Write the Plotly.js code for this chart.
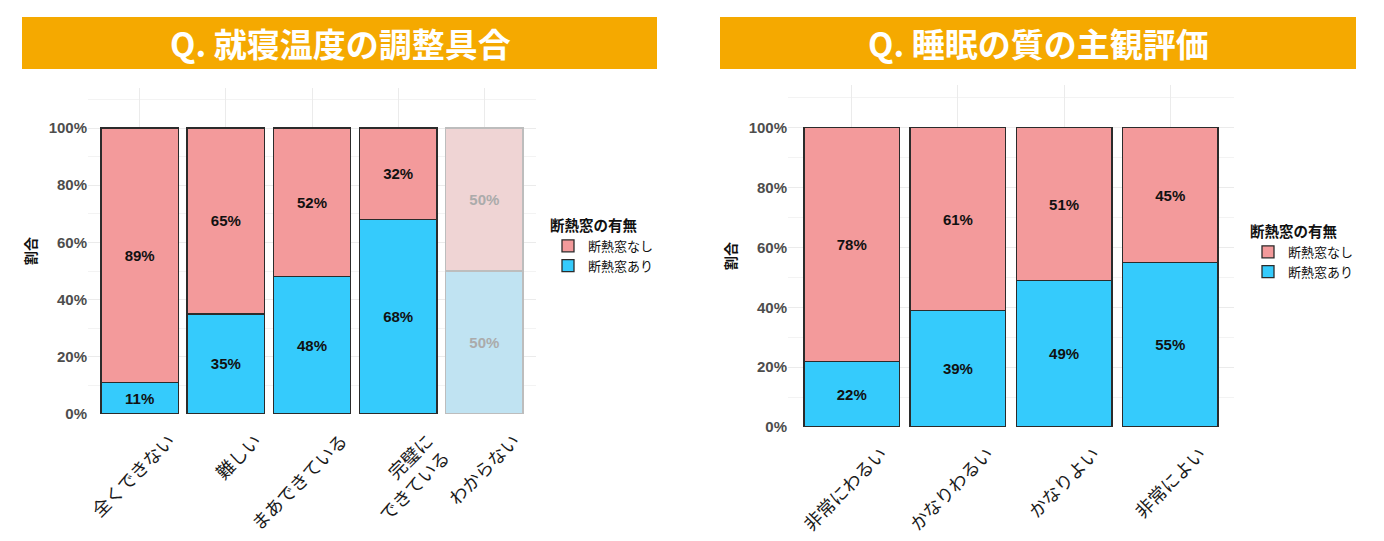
<!DOCTYPE html>
<html>
<head>
<meta charset="utf-8">
<script src="https://cdn.plot.ly/plotly-3.0.1.min.js"></script>
<style>
  html, body { margin: 0; padding: 0; background: #fff; }
  #chart { width: 1384px; height: 541px; }
</style>
</head>
<body>
<div id="chart"></div>
<script>
// Q. 就寝温度の調整具合
var tempCats = ['全くできない', '難しい', 'まあできている', '完璧に<br>できている', 'わからない'];
var tempWith = [0.11, 0.35, 0.48, 0.68, 0.50];      // 断熱窓あり
var tempWithout = [0.89, 0.65, 0.52, 0.32, 0.50];   // 断熱窓なし

// Q. 睡眠の質の主観評価
var sleepCats = ['非常にわるい', 'かなりわるい', 'かなりよい', '非常によい'];
var sleepWith = [0.22, 0.39, 0.49, 0.55];
var sleepWithout = [0.78, 0.61, 0.51, 0.45];

var nameWith = '断熱窓あり';
var nameWithout = '断熱窓なし';
var legendTitle = '断熱窓の有無';

var pink = '#F39A9B', blue = '#35CBFC';
var pinkFaded = '#EFD4D4', blueFaded = '#C0E3F2';
var numFont = '"Liberation Sans", "Noto Sans CJK JP", sans-serif';
var jpFont = '"Noto Sans CJK JP", sans-serif';

// the "わからない" column is drawn faded
function colours(cats, normal, faded) {
  return cats.map(function (c) { return c === 'わからない' ? faded : normal; });
}

function barTrace(cats, vals, name, fill, faded, xa, ya, legend) {
  return {
    type: 'bar',
    x: cats,
    y: vals,
    name: name,
    xaxis: xa,
    yaxis: ya,
    legend: legend,
    text: vals.map(function (v) { return Math.round(v * 100) + '%'; }),
    textposition: 'inside',
    insidetextanchor: 'middle',
    textangle: 0,
    constraintext: 'none',
    textfont: {
      family: numFont, size: 15, weight: 'bold',
      color: colours(cats, '#111111', '#ABABAB')
    },
    marker: {
      color: colours(cats, fill, faded),
      line: { color: colours(cats, '#2B2B2B', '#BDBDBD'), width: 1.3 }
    },
    hoverinfo: 'skip'
  };
}

var data = [
  barTrace(tempCats, tempWith, nameWith, blue, blueFaded, 'x', 'y', 'legend'),
  barTrace(tempCats, tempWithout, nameWithout, pink, pinkFaded, 'x', 'y', 'legend'),
  barTrace(sleepCats, sleepWith, nameWith, blue, blueFaded, 'x2', 'y2', 'legend2'),
  barTrace(sleepCats, sleepWithout, nameWithout, pink, pinkFaded, 'x2', 'y2', 'legend2')
];

function xAxis(domain, n, anchor) {
  return {
    domain: domain,
    anchor: anchor,
    type: 'category',
    range: [-0.6, n - 0.4],
    showgrid: true,
    gridcolor: '#EBEBEB',
    gridwidth: 1,
    zeroline: false,
    showline: false,
    ticks: '',
    tickangle: -45,
    ticklabelshift: 30,
    ticklabelstandoff: 12,
    tickfont: { family: jpFont, size: 18, color: '#1A1A1A' },
    fixedrange: true
  };
}

function yAxis(domain, top, anchor) {
  return {
    domain: domain,
    anchor: anchor,
    range: [0, top],
    dtick: 0.2,
    tick0: 0,
    tickformat: '.0%',
    showgrid: true,
    gridcolor: '#EBEBEB',
    gridwidth: 1,
    minor: { dtick: 0.1, tick0: 0, showgrid: true, gridcolor: '#F3F3F3', gridwidth: 1 },
    zeroline: false,
    showline: false,
    ticks: '',
    tickfont: { family: numFont, size: 15, weight: 'bold', color: '#4D4D4D' },
    title: { text: '割合', font: { family: jpFont, size: 14, weight: 'bold', color: '#111' }, standoff: 8 },
    fixedrange: true
  };
}

function legendBox(x, y) {
  return {
    x: x, y: y, xanchor: 'left', yanchor: 'top',
    traceorder: 'reversed',
    bgcolor: 'rgba(0,0,0,0)',
    font: { family: jpFont, size: 13, color: '#111' },
    title: { text: legendTitle, font: { family: jpFont, size: 14.5, weight: 'bold', color: '#111' } },
    itemwidth: 30,
    tracegroupgap: 0
  };
}

var bannerColor = '#F5A900';

var layout = {
  width: 1384,
  height: 541,
  margin: { l: 0, r: 0, t: 0, b: 0 },
  paper_bgcolor: '#fff',
  plot_bgcolor: '#fff',
  barmode: 'stack',
  bargap: 0.1,
  xaxis: xAxis([88 / 1384, 536 / 1384], tempCats.length, 'y'),
  yaxis: yAxis([1 - 414 / 541, 1 - 88 / 541], 1.14, 'x'),
  xaxis2: xAxis([788 / 1384, 1234 / 1384], sleepCats.length, 'y2'),
  yaxis2: yAxis([1 - 427 / 541, 1 - 85 / 541], 1.143, 'x2'),
  legend: legendBox(548 / 1384, 1 - 212 / 541),
  legend2: legendBox(1248 / 1384, 1 - 218 / 541),
  shapes: [
    { type: 'rect', xref: 'paper', yref: 'paper', x0: 22 / 1384, x1: 657 / 1384,
      y0: 1 - 69 / 541, y1: 1 - 17 / 541, fillcolor: bannerColor, line: { width: 0 }, layer: 'below' },
    { type: 'rect', xref: 'paper', yref: 'paper', x0: 720 / 1384, x1: 1356 / 1384,
      y0: 1 - 69 / 541, y1: 1 - 17 / 541, fillcolor: bannerColor, line: { width: 0 }, layer: 'below' }
  ],
  annotations: [
    { text: 'Q. 就寝温度の調整具合', xref: 'paper', yref: 'paper', x: 340 / 1384, y: 1 - 43 / 541,
      xanchor: 'center', yanchor: 'middle', showarrow: false,
      font: { family: jpFont, size: 33, weight: 'bold', color: '#fff' } },
    { text: 'Q. 睡眠の質の主観評価', xref: 'paper', yref: 'paper', x: 1038 / 1384, y: 1 - 43 / 541,
      xanchor: 'center', yanchor: 'middle', showarrow: false,
      font: { family: jpFont, size: 33, weight: 'bold', color: '#fff' } }
  ]
};

Plotly.newPlot('chart', data, layout, { displayModeBar: false, staticPlot: true });
</script>
</body>
</html>
